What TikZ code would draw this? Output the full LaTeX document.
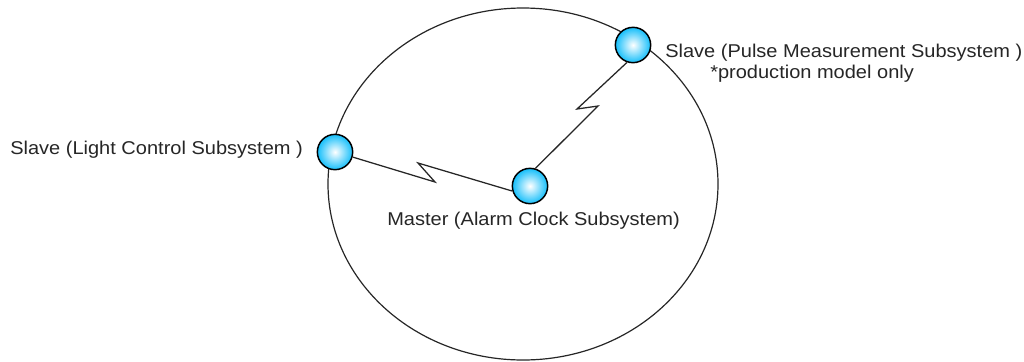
\documentclass[tikz,border=0pt]{standalone}
\usepackage{fontspec}
\setmainfont[FakeStretch=1.08]{Liberation Sans}
\definecolor{nodeblue}{RGB}{20,190,250}
\tikzset{
  station/.style={circle, draw=black, line width=1.1pt, minimum size=26.5pt, inner sep=0pt,
                  inner color=white, outer color=nodeblue},
  wire/.style={draw=black!85, line width=0.95pt},
  ring/.style={draw=black!85, line width=0.9pt},
  lbl/.style={anchor=base west, inner sep=0pt, text=black!85,
              font=\fontsize{13.9}{16}\selectfont}
}
\begin{document}
\begin{tikzpicture}[x=0.75pt,y=-0.75pt]
\useasboundingbox (0,0) rectangle (1024,361);
% outer ring
\draw[ring] (523,184) ellipse [x radius=146.25pt, y radius=132pt];
% nodes
\node[station] (L) at (335,152) {};
\node[station] (M) at (530,186) {};
\node[station] (T) at (633,45) {};
% zigzag points
\coordinate (z1) at (435,182);
\coordinate (z2) at (418,163);
\coordinate (z3) at (577,109);
\coordinate (z4) at (598,106);
% connectors
\draw[wire] (L.-16.7) -- (z1) -- (z2) -- (M.196);
\draw[wire] (T.251.6) -- (z3) -- (z4) -- (M.73);
% labels
\node[lbl] (lL) at (10,154) {Slave (Light Control Subsystem )};
\node[lbl] (lM) at (387,225) {Master (Alarm Clock Subsystem)};
\node[lbl] (lT) at (665,57) {Slave (Pulse Measurement Subsystem )};
\node[lbl] (lP) at (710,78) {*production model only};
\end{tikzpicture}
\end{document}
